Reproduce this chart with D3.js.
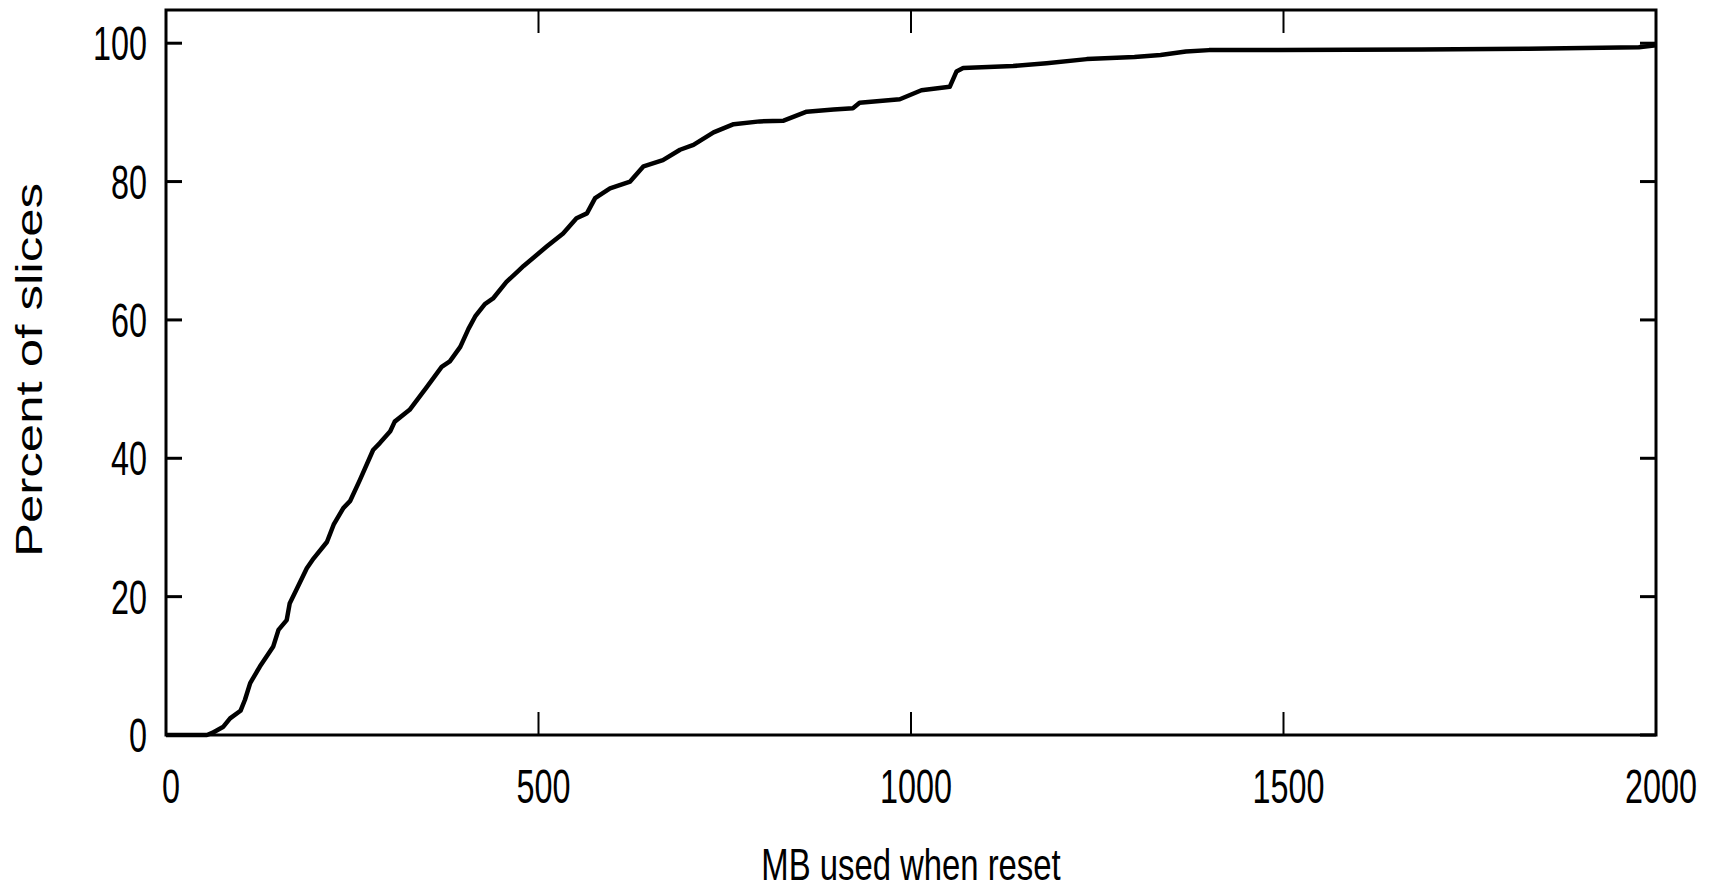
<!DOCTYPE html>
<html>
<head>
<meta charset="utf-8">
<script src="https://cdn.jsdelivr.net/npm/d3@7/dist/d3.min.js"></script>
<style>
  html, body { margin: 0; padding: 0; background: #fff; }
  svg { display: block; }
  .tick-label { font-family: "Liberation Sans", Arial, sans-serif; font-size: 49px; fill: #000; }
  .axis-title { font-family: "Liberation Sans", Arial, sans-serif; fill: #000; }
</style>
</head>
<body>
<div id="chart"></div>
<script>
// CDF of memory used at reset (MB -> percent of slices)
var mbUsed = [0, 55, 62, 77, 86, 100, 106, 113, 126, 144, 151, 162, 166, 175, 189, 198, 216, 225,
  238, 247, 260, 278, 287, 301, 307, 327, 350, 370, 381, 395, 406, 415, 428, 439, 457, 473, 480,
  511, 533, 551, 565, 576, 596, 623, 641, 667, 690, 708, 735, 762, 797, 829, 860, 896, 922, 931,
  985, 1014, 1052, 1061, 1070, 1137, 1182, 1236, 1300, 1335, 1369, 1400, 1493, 1685, 1829, 1977, 2000];
var pctSlices = [0, 0, 0.3, 1.2, 2.4, 3.5, 5.1, 7.5, 9.9, 12.8, 15.2, 16.6, 19.0, 21.0, 24.1, 25.5, 27.9, 30.4,
  32.8, 33.8, 36.8, 41.2, 42.2, 43.9, 45.3, 47.0, 50.3, 53.2, 54.0, 56.1, 58.7, 60.5, 62.3, 63.1, 65.5, 67.1, 67.8,
  70.6, 72.5, 74.7, 75.4, 77.6, 79.0, 80.0, 82.2, 83.1, 84.6, 85.3, 87.1, 88.3, 88.7, 88.8, 90.1, 90.4, 90.6, 91.4,
  91.9, 93.2, 93.7, 95.9, 96.4, 96.7, 97.1, 97.7, 98.0, 98.3, 98.8, 99.0, 99.0, 99.1, 99.2, 99.4, 99.7];
var xTicks = [0, 500, 1000, 1500, 2000];
var yTicks = [0, 20, 40, 60, 80, 100];

var svgWidth = 1713, svgHeight = 890,
    margin = { top: 10, right: 57, bottom: 155, left: 166 },
    chartWidth = svgWidth - margin.left - margin.right,
    chartHeight = svgHeight - margin.top - margin.bottom;

var data = mbUsed.map(function (d, i) { return { mb: d, pct: pctSlices[i] }; });

var x = d3.scaleLinear().domain([0, 2000]).range([0, chartWidth]),
    y = d3.scaleLinear().domain([0, 104.8]).range([chartHeight, 0]);

var svg = d3.select('#chart').append('svg')
    .attr('width', svgWidth)
    .attr('height', svgHeight);

var g = svg.append('g')
    .attr('transform', 'translate(' + margin.left + ',' + margin.top + ')');

// inward ticks, mirrored on all four sides (gnuplot style)
var xTickLen = 23, yTickLen = 16;
g.append('g').selectAll('line.xb').data(xTicks).enter().append('line')
    .attr('x1', function (d) { return x(d); }).attr('x2', function (d) { return x(d); })
    .attr('y1', chartHeight).attr('y2', chartHeight - xTickLen)
    .attr('stroke', '#000').attr('stroke-width', 2);
g.append('g').selectAll('line.xt').data(xTicks).enter().append('line')
    .attr('x1', function (d) { return x(d); }).attr('x2', function (d) { return x(d); })
    .attr('y1', 0).attr('y2', xTickLen)
    .attr('stroke', '#000').attr('stroke-width', 2);
g.append('g').selectAll('line.yl').data(yTicks).enter().append('line')
    .attr('x1', 0).attr('x2', yTickLen)
    .attr('y1', function (d) { return y(d); }).attr('y2', function (d) { return y(d); })
    .attr('stroke', '#000').attr('stroke-width', 3);
g.append('g').selectAll('line.yr').data(yTicks).enter().append('line')
    .attr('x1', chartWidth).attr('x2', chartWidth - yTickLen)
    .attr('y1', function (d) { return y(d); }).attr('y2', function (d) { return y(d); })
    .attr('stroke', '#000').attr('stroke-width', 3);

// tick labels, condensed
g.append('g').selectAll('text').data(xTicks).enter().append('text')
    .attr('class', 'tick-label')
    .attr('text-anchor', 'middle')
    .attr('transform', function (d) {
        return 'translate(' + (x(d) + 5) + ',' + (chartHeight + 68) + ') scale(0.66,1)';
    })
    .text(function (d) { return d; });
g.append('g').selectAll('text').data(yTicks).enter().append('text')
    .attr('class', 'tick-label')
    .attr('text-anchor', 'end')
    .attr('transform', function (d) {
        return 'translate(-19,' + (y(d) + 17) + ') scale(0.66,1)';
    })
    .text(function (d) { return d; });

var line = d3.line()
    .x(function (d) { return x(d.mb); })
    .y(function (d) { return y(d.pct); });

g.append('path')
    .datum(data)
    .attr('fill', 'none')
    .attr('stroke', '#000')
    .attr('stroke-width', 4.5)
    .attr('stroke-linejoin', 'round')
    .attr('d', line);

g.append('rect')
    .attr('x', 0).attr('y', 0)
    .attr('width', chartWidth).attr('height', chartHeight)
    .attr('fill', 'none')
    .attr('stroke', '#000')
    .attr('stroke-width', 3);

svg.append('text')
    .attr('class', 'axis-title')
    .attr('text-anchor', 'middle')
    .style('font-size', '45px')
    .attr('transform', 'translate(' + (margin.left + chartWidth / 2) + ',880) scale(0.73,1)')
    .text('MB used when reset');

svg.append('text')
    .attr('class', 'axis-title')
    .attr('text-anchor', 'middle')
    .style('font-size', '51px')
    .attr('transform', 'translate(42,370) rotate(-90) scale(1,0.735)')
    .text('Percent of slices');
</script>
</body>
</html>
